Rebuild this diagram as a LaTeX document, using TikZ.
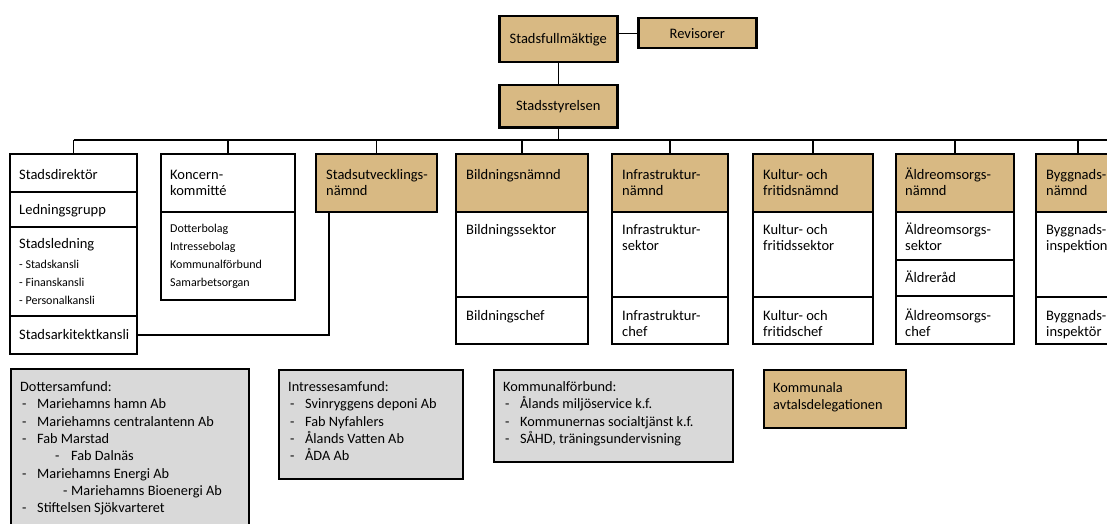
\documentclass[tikz,border=0pt]{standalone}
\usepackage{fontspec}
\setmainfont{Carlito}
\definecolor{boxtan}{RGB}{216,185,131}
\definecolor{boxgray}{RGB}{217,217,217}
\tikzset{
  bx/.style={draw, line width=2pt, inner sep=0pt, anchor=north west, fill=white},
  tanbox/.style={fill=boxtan},
  graybox/.style={fill=boxgray, line width=1.5pt},
  topbox/.style={fill=boxtan, line width=2.5pt, font=\fontsize{14.5}{16}\selectfont},
  conn/.style={draw, line width=1.3pt},
  txt/.style={anchor=base west, inner sep=0pt, align=left, font=\fontsize{14.5}{16}\selectfont},
  stxt/.style={anchor=base west, inner sep=0pt, align=left, font=\fontsize{12}{18}\selectfont},
  btxt/.style={anchor=base west, inner sep=0pt, align=left, font=\fontsize{14.3}{17.3}\selectfont},
}
\newcommand\bx[7]{\node[bx,#6,minimum width={#4-#2},minimum height={#5-#3}] (#1) at (#2,#3) {#7};}
\newcommand\li[3]{\makebox[0pt][l]{\hspace*{#1pt}-}\hspace*{#2pt}#3}
\begin{document}
\begin{tikzpicture}[x=1pt,y=-1pt]
\useasboundingbox (0,0) rectangle (1107,524);
\clip (0,0) rectangle (1107,524);
% top
\bx{sf}{498}{15}{616}{61}{topbox}{Stadsfullmäktige}
\bx{rev}{637}{17}{755}{47}{topbox}{Revisorer}
\bx{ss}{498}{84}{616}{126}{topbox}{Stadsstyrelsen}
\coordinate (bus) at (0,140);
\coordinate (busR) at (1107,140);
% left column
\bx{sd}{9}{153}{136}{191}{}{}
\bx{lg}{9}{191}{136}{226}{}{}
\bx{sl}{9}{226}{136}{315}{}{}
\bx{sak}{9}{315}{136}{353}{}{}
% koncern
\bx{kk}{160}{153}{294}{211}{}{}
\bx{kb}{160}{211}{294}{299}{}{}
% stadsutveckling
\bx{su}{315}{153}{436}{211}{tanbox}{}
% bildning
\bx{bn}{455}{153}{587}{211}{tanbox}{}
\bx{bs}{455}{211}{587}{296}{}{}
\bx{bc}{455}{296}{587}{343}{}{}
% infrastruktur
\bx{ih}{611}{153}{727}{211}{tanbox}{}
\bx{is}{611}{211}{727}{296}{}{}
\bx{ic}{611}{296}{727}{343}{}{}
% kultur
\bx{kh}{752}{153}{872}{211}{tanbox}{}
\bx{ks}{752}{211}{872}{296}{}{}
\bx{kc}{752}{296}{872}{343}{}{}
% aldreomsorg
\bx{ah}{895}{153}{1013}{211}{tanbox}{}
\bx{as}{895}{211}{1013}{259}{}{}
\bx{ar}{895}{259}{1013}{295}{}{}
\bx{ac}{895}{295}{1013}{343}{}{}
% byggnads
\bx{yh}{1035}{153}{1119}{211}{tanbox}{}
\bx{ys}{1035}{211}{1119}{296}{}{}
\bx{yc}{1035}{296}{1119}{343}{}{}
% bottom
\bx{dot}{10}{368}{248}{540}{graybox}{}
\bx{int}{278}{369}{462}{478}{graybox}{}
\bx{kf}{493}{369}{732}{461}{graybox}{}
\bx{kad}{763}{369}{905}{427}{tanbox,line width=1.5pt}{}
% connectors
\draw[conn] (rev.west) -- (rev.west -| sf.east);
\draw[conn] (sf.south) -- (ss.north);
\draw[conn] (ss.south) -- (ss.south |- bus);
\draw[conn] (sd.north |- bus) -- (busR);
\foreach \n in {sd,kk,su,bn,ih,kh,ah,yh} \draw[conn] (\n.north) -- (\n.north |- bus);
\draw[conn] ([xshift=-47.5pt]su.south) |- (sak.east);
% texts (base anchor of a multi-line node = baseline of its last line)
\node[txt] (t1) at (19,179) {Stadsdirektör};
\node[txt] (t2) at (19,214) {Ledningsgrupp};
\node[txt] (t3) at (19,248) {Stadsledning};
\node[stxt] (t4) at (19,304) {- Stadskansli\\- Finanskansli\\- Personalkansli};
\node[txt] (t5) at (19,339) {Stadsarkitektkansli};
\node[txt] (t6) at (170,195) {Koncern-\\kommitté};
\node[stxt] (t7) at (170,286) {Dotterbolag\\Intressebolag\\Kommunalförbund\\Samarbetsorgan};
\node[txt] (t8) at (326,195) {Stadsutvecklings-\\nämnd};
\node[txt] (t9) at (466,179) {Bildningsnämnd};
\node[txt] (t10) at (466,234) {Bildningssektor};
\node[txt] (t11) at (466,320) {Bildningschef};
\node[txt] (t12) at (622,195) {Infrastruktur-\\nämnd};
\node[txt] (t13) at (622,250) {Infrastruktur-\\sektor};
\node[txt] (t14) at (622,336) {Infrastruktur-\\chef};
\node[txt] (t15) at (763,195) {Kultur- och\\fritidsnämnd};
\node[txt] (t16) at (763,250) {Kultur- och\\fritidssektor};
\node[txt] (t17) at (763,336) {Kultur- och\\fritidschef};
\node[txt] (t18) at (905,195) {Äldreomsorgs-\\nämnd};
\node[txt] (t19) at (905,250) {Äldreomsorgs-\\sektor};
\node[txt] (t20) at (905,282) {Äldreråd};
\node[txt] (t21) at (905,336) {Äldreomsorgs-\\chef};
\node[txt] (t22) at (1046,195) {Byggnads-\\nämnd};
\node[txt] (t23) at (1046,250) {Byggnads-\\inspektion};
\node[txt] (t24) at (1046,336) {Byggnads-\\inspektör};
\node[btxt] (t25) at (20,512.6) {Dottersamfund:\\
\li{2}{17}{Mariehamns hamn Ab}\\
\li{2}{17}{Mariehamns centralantenn Ab}\\
\li{2}{17}{Fab Marstad}\\
\li{35}{51}{Fab Dalnäs}\\
\li{2}{17}{Mariehamns Energi Ab}\\
\li{43}{51}{Mariehamns Bioenergi Ab}\\
\li{2}{17}{Stiftelsen Sjökvarteret}};
\node[btxt] (t26) at (288,460.7) {Intressesamfund:\\
\li{2}{17}{Svinryggens deponi Ab}\\
\li{2}{17}{Fab Nyfahlers}\\
\li{2}{17}{Ålands Vatten Ab}\\
\li{2}{17}{ÅDA Ab}};
\node[btxt] (t27) at (503,443.4) {Kommunalförbund:\\
\li{2}{17}{Ålands miljöservice k.f.}\\
\li{2}{17}{Kommunernas socialtjänst k.f.}\\
\li{2}{17}{SÅHD, träningsundervisning}};
\node[btxt] (t28) at (773,409.8) {Kommunala\\avtalsdelegationen};
\end{tikzpicture}
\end{document}
